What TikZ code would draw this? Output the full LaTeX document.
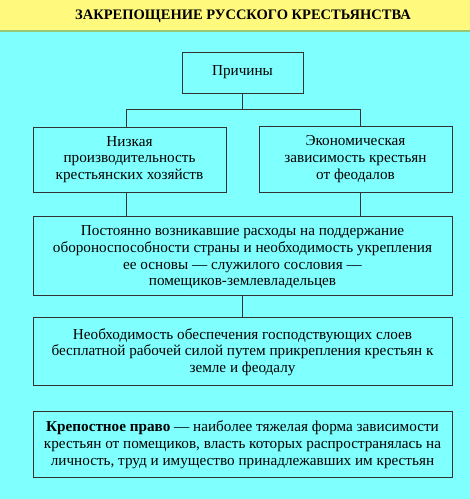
\documentclass[tikz,border=0pt]{standalone}
\usepackage{fontspec}
\setmainfont{Liberation Serif}
\begin{document}
\begin{tikzpicture}[x=1pt,y=-1pt,
  box/.style={draw=black!80, line width=0.8pt, fill=cyanbg},
  txt/.style={align=center, font=\fontsize{15.2}{16.7}\selectfont, inner sep=0pt},
  conn/.style={draw=black!80, line width=0.8pt}]
\definecolor{cyanbg}{RGB}{128,255,255}
\definecolor{ybg}{RGB}{255,250,125}
\useasboundingbox (0,0) rectangle (470,499);
\fill[cyanbg] (0,0) rectangle (470,499);
\fill[ybg] (0,0) rectangle (470,30);
\draw[line width=1.5pt, color={rgb,255:red,150;green,200;blue,120}] (0,31) -- (470,31);
\node[font=\bfseries\fontsize{14.5}{16}\selectfont, inner sep=0pt] (title) at (243,16) {ЗАКРЕПОЩЕНИЕ РУССКОГО КРЕСТЬЯНСТВА};

% boxes
\draw[box] (182,52) rectangle (303,93);
\node[txt] (p) at (242.5,72.5) {Причины};

\draw[box] (33,127) rectangle (226,192);
\node[txt] (n) at (129.5,159.5) {Низкая\\производительность\\крестьянских хозяйств};
\draw[box] (259,126) rectangle (452,192);
\node[txt] (e) at (355.5,159) {Экономическая\\зависимость крестьян\\от феодалов};

\draw[box] (33,216) rectangle (452,295);
\node[txt] (r) at (242.5,257.5) {Постоянно возникавшие расходы на поддержание\\обороноспособности страны и необходимость укрепления\\ее основы — служилого сословия —\\помещиков-землевладельцев};

\draw[box] (33,317) rectangle (452,385);
\node[txt] (o) at (242.5,352) {Необходимость обеспечения господствующих слоев\\бесплатной рабочей силой путем прикрепления крестьян к\\земле и феодалу};

\draw[box] (33,411) rectangle (452,477);
\node[txt] (k) at (242.5,444.5) {\textbf{Крепостное право} — наиболее тяжелая форма зависимости\\крестьян от помещиков, власть которых распространялась на\\личность, труд и имущество принадлежавших им крестьян};

% connectors
\draw[conn] (242,93) -- (242,109);
\draw[conn] (126,109) -- (360,109);
\draw[conn] (126,109) -- (126,127);
\draw[conn] (360,109) -- (360,126);
\draw[conn] (126,192) -- (126,216);
\draw[conn] (360,192) -- (360,216);
\draw[conn] (242,295) -- (242,317);
\end{tikzpicture}
\end{document}
